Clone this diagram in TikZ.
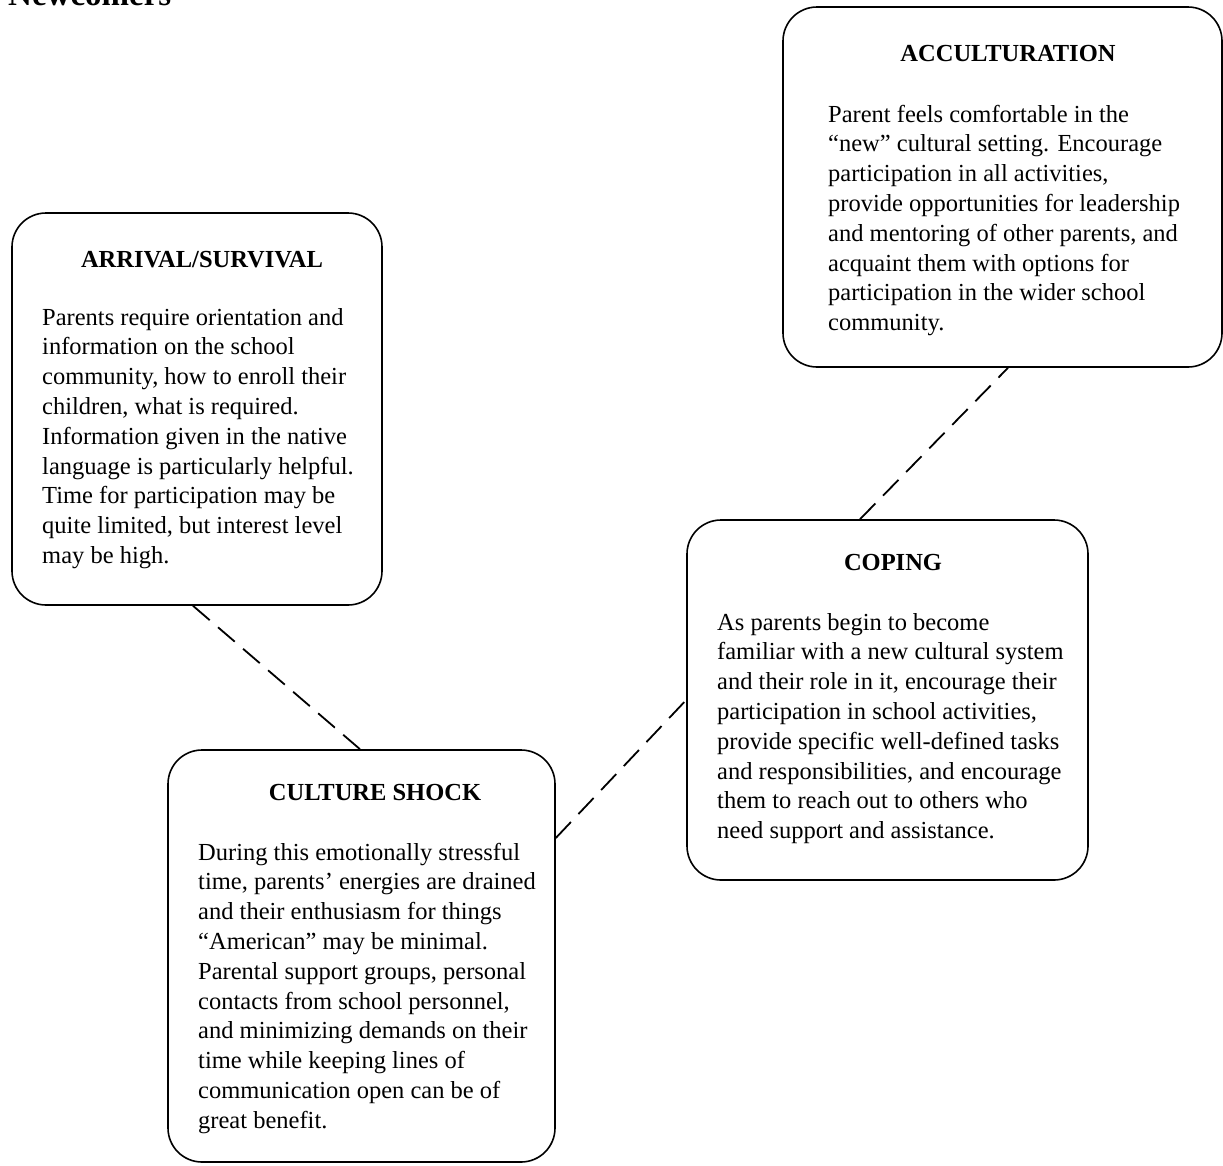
\documentclass[tikz,border=0pt]{standalone}
\usepackage{fontspec}
\setmainfont{Liberation Serif}
\newcommand{\blk}[1]{\begin{tabular}[t]{@{}l@{}}#1\end{tabular}}
\begin{document}
\begin{tikzpicture}[x=1pt,y=-1pt,
  box/.style={draw, line width=1.6pt, rounded corners=34pt, inner sep=0pt},
  ttl/.style={anchor=base, inner sep=0pt, font=\fontsize{24.5}{29.8}\selectfont\bfseries},
  body/.style={anchor=base west, inner sep=0pt, font=\fontsize{24.5}{29.8}\selectfont},
  link/.style={line width=1.8pt, dash pattern=on 22pt off 11pt}]
\useasboundingbox (0,0) rectangle (1223,1165);
\node (head) [anchor=base west, inner sep=0pt, font=\fontsize{33}{36}\selectfont\bfseries] at (8,5) {Newcomers};
% boxes
\node (arrival) [box, minimum width=370pt, minimum height=392pt] at (197,409) {};
\node (culture) [box, minimum width=387pt, minimum height=412pt] at (361.5,956) {};
\node (coping) [box, minimum width=401pt, minimum height=360pt] at (887.5,700) {};
\node (accult) [box, minimum width=439pt, minimum height=360pt] at (1002.5,187) {};
% titles
\node (t1) [ttl] at (202,267) {ARRIVAL/SURVIVAL};
\node (t2) [ttl] at (375,800) {CULTURE SHOCK};
\node (t3) [ttl] at (893,570) {COPING};
\node (t4) [ttl] at (1008,61) {ACCULTURATION};
% bodies
\node (b1) [body] at (42,325) {\blk{Parents require orientation and\\
information on the school\\
community, how to enroll their\\
children, what is required.\\
Information given in the native\\
language is particularly helpful.\\
Time for participation may be\\
quite limited, but interest level\\
may be high.}};
\node (b2) [body] at (198,860) {\blk{During this emotionally stressful\\
time, parents’ energies are drained\\
and their enthusiasm for things\\
“American” may be minimal.\\
Parental support groups, personal\\
contacts from school personnel,\\
and minimizing demands on their\\
time while keeping lines of\\
communication open can be of\\
great benefit.}};
\node (b3) [body] at (717,630) {\blk{As parents begin to become\\
familiar with a new cultural system\\
and their role in it, encourage their\\
participation in school activities,\\
provide specific well-defined tasks\\
and responsibilities, and encourage\\
them to reach out to others who\\
need support and assistance.}};
\node (b4) [body] at (828,122) {\blk{Parent feels comfortable in the\\
“new” cultural setting. Encourage\\
participation in all activities,\\
provide opportunities for leadership\\
and mentoring of other parents, and\\
acquaint them with options for\\
participation in the wider school\\
community.}};
% connectors
\draw[link] ([xshift=-4pt]arrival.south) -- ([xshift=-1.5pt]culture.north);
\draw[link] ([yshift=118pt]culture.east) -- (coping.west);
\draw[link] ([xshift=-27.5pt]coping.north) -- ([xshift=5.5pt]accult.south);
\end{tikzpicture}
\end{document}
